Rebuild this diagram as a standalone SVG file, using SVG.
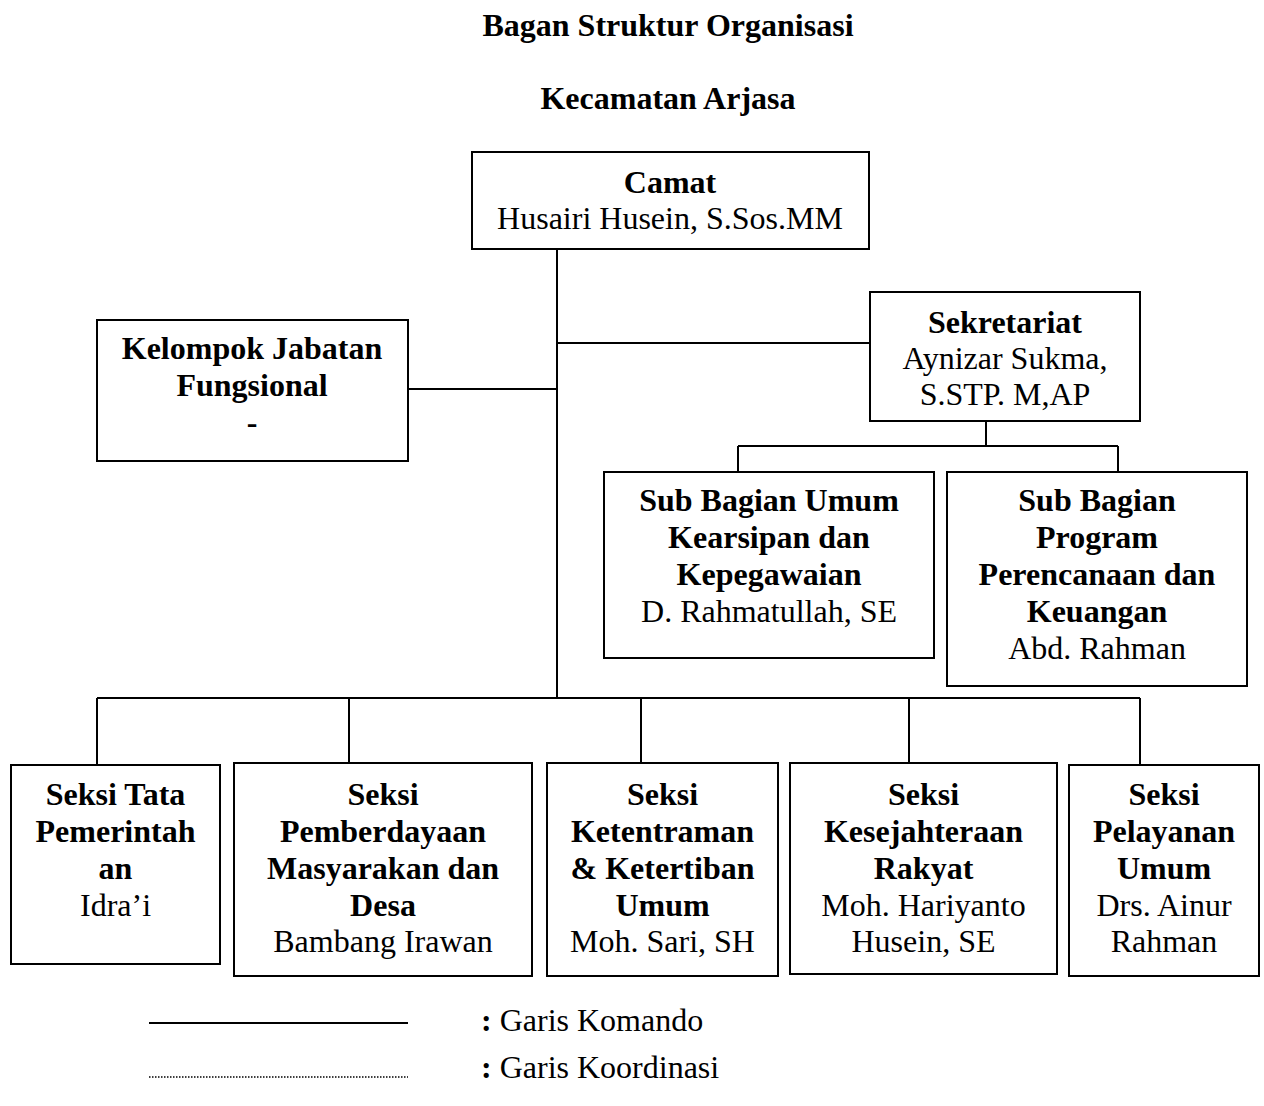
<svg xmlns="http://www.w3.org/2000/svg" width="1264" height="1106" viewBox="0 0 1264 1106">
<style>
text{font-family:"Liberation Serif","Times New Roman",serif;font-size:32px;fill:#000;text-anchor:middle}
.b{font-weight:bold}
.box{fill:#fff;stroke:#000;stroke-width:2}
.ln{stroke:#000;stroke-width:2;fill:none}
.dot{stroke:#000;stroke-width:1.5;stroke-dasharray:1.5 1.5;fill:none}
.l{text-anchor:start}
</style>
<rect width="1264" height="1106" fill="#fff"/>
<g id="title">
<text class="b" x="668" y="36">Bagan Struktur Organisasi</text>
<text class="b" x="668" y="109">Kecamatan Arjasa</text>
</g>
<g id="connectors">
<path class="ln" d="M557 249V698M557 343H870M408 389H557M986 421V446M738 446H1118M738 446V472M1118 446V472M97 698H1140M97 698V765M349 698V763M641 698V763M909 698V763M1140 698V765"/>
</g>
<g id="camat">
<rect class="box" x="472" y="152" width="397" height="97"/>
<text class="b" x="670" y="193">Camat</text>
<text x="670" y="229">Husairi Husein, S.Sos.MM</text>
</g>
<g id="sekretariat">
<rect class="box" x="870" y="292" width="270" height="129"/>
<text class="b" x="1005" y="333">Sekretariat</text>
<text x="1005" y="369">Aynizar Sukma,</text>
<text x="1005" y="405">S.STP. M,AP</text>
</g>
<g id="kelompok">
<rect class="box" x="97" y="320" width="311" height="141"/>
<text class="b" x="252" y="359">Kelompok Jabatan</text>
<text class="b" x="252" y="396">Fungsional</text>
<text class="b" x="252" y="433">-</text>
</g>
<g id="subumum">
<rect class="box" x="604" y="472" width="330" height="186"/>
<text class="b" x="769" y="511">Sub Bagian Umum</text>
<text class="b" x="769" y="548">Kearsipan dan</text>
<text class="b" x="769" y="585">Kepegawaian</text>
<text x="769" y="622">D. Rahmatullah, SE</text>
</g>
<g id="subprogram">
<rect class="box" x="947" y="472" width="300" height="214"/>
<text class="b" x="1097" y="511">Sub Bagian</text>
<text class="b" x="1097" y="548">Program</text>
<text class="b" x="1097" y="585">Perencanaan dan</text>
<text class="b" x="1097" y="622">Keuangan</text>
<text x="1097" y="659">Abd. Rahman</text>
</g>
<g id="seksi1">
<rect class="box" x="11" y="765" width="209" height="199"/>
<text class="b" x="115.5" y="805">Seksi Tata</text>
<text class="b" x="115.5" y="842">Pemerintah</text>
<text class="b" x="115.5" y="879">an</text>
<text x="115.5" y="916">Idra’i</text>
</g>
<g id="seksi2">
<rect class="box" x="234" y="763" width="298" height="213"/>
<text class="b" x="383" y="805">Seksi</text>
<text class="b" x="383" y="842">Pemberdayaan</text>
<text class="b" x="383" y="879">Masyarakan dan</text>
<text class="b" x="383" y="916">Desa</text>
<text x="383" y="952">Bambang Irawan</text>
</g>
<g id="seksi3">
<rect class="box" x="547" y="763" width="231" height="213"/>
<text class="b" x="662.5" y="805">Seksi</text>
<text class="b" x="662.5" y="842">Ketentraman</text>
<text class="b" x="662.5" y="879">&amp; Ketertiban</text>
<text class="b" x="662.5" y="916">Umum</text>
<text x="662.5" y="952">Moh. Sari, SH</text>
</g>
<g id="seksi4">
<rect class="box" x="790" y="763" width="267" height="211"/>
<text class="b" x="923.5" y="805">Seksi</text>
<text class="b" x="923.5" y="842">Kesejahteraan</text>
<text class="b" x="923.5" y="879">Rakyat</text>
<text x="923.5" y="916">Moh. Hariyanto</text>
<text x="923.5" y="952">Husein, SE</text>
</g>
<g id="seksi5">
<rect class="box" x="1069" y="765" width="190" height="211"/>
<text class="b" x="1164" y="805">Seksi</text>
<text class="b" x="1164" y="842">Pelayanan</text>
<text class="b" x="1164" y="879">Umum</text>
<text x="1164" y="916">Drs. Ainur</text>
<text x="1164" y="952">Rahman</text>
</g>
<g id="legend">
<line class="ln" x1="149" y1="1023" x2="408" y2="1023"/>
<text class="l" x="481" y="1031"><tspan class="b">:</tspan> Garis Komando</text>
<line class="dot" x1="149" y1="1077" x2="408" y2="1077"/>
<text class="l" x="481" y="1078"><tspan class="b">:</tspan> Garis Koordinasi</text>
</g>
</svg>
